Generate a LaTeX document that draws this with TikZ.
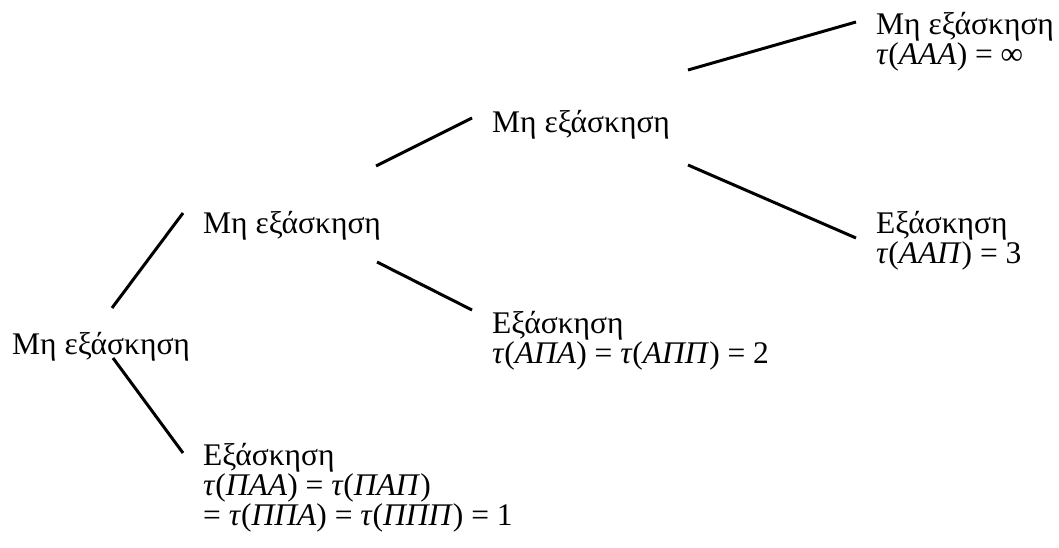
\documentclass[tikz,border=0pt]{standalone}
\usepackage{fontspec}
\setmainfont{Liberation Serif}
\usepackage{tikz}
\newcommand{\tpath}[1]{\textit{τ}(\textit{#1})}

\begin{document}
\begin{tikzpicture}[
  x=1pt,y=-1pt,
  lbl/.style={inner sep=0pt,anchor=base west,align=left,font=\fontsize{31.5}{30}\selectfont},
  br/.style={line width=3pt,black}
]
\useasboundingbox[fill=white] (0,0) rectangle (1059,548);
\node[lbl] (root) at (12,354) {Μη εξάσκηση};
\node[lbl] (no2) at (203,233) {Μη εξάσκηση};
\node[lbl] (yes2) at (203,525) {Εξάσκηση\\ \tpath{ΠΑΑ} = \tpath{ΠΑΠ}\\ = \tpath{ΠΠΑ} = \tpath{ΠΠΠ} = 1};
\node[lbl] (no3) at (492,133) {Μη εξάσκηση};
\node[lbl] (yes3) at (492,363) {Εξάσκηση\\ \tpath{ΑΠΑ} = \tpath{ΑΠΠ} = 2};
\node[lbl] (no4) at (876,65) {Μη εξάσκηση\\ \tpath{ΑΑΑ} = ∞};
\node[lbl] (yes4) at (876,263) {Εξάσκηση\\ \tpath{ΑΑΠ} = 3};
% branches
\draw[br] ([shift={(100,-46)}]root.base west) -- ([shift={(-20,-20)}]no2.base west);
\draw[br] ([shift={(101,4)}]root.base west) -- ([shift={(-20,-72)}]yes2.base west);
\draw[br] ([shift={(173,-67)}]no2.base west) -- ([shift={(-20,-15)}]no3.base west);
\draw[br] ([shift={(174,29)}]no2.base west) -- ([shift={(-20,-53)}]yes3.base west);
\draw[br] ([shift={(196,-63)}]no3.base west) -- ([shift={(-20,-43)}]no4.base west);
\draw[br] ([shift={(196,32)}]no3.base west) -- ([shift={(-20,-25)}]yes4.base west);
\end{tikzpicture}
\end{document}
